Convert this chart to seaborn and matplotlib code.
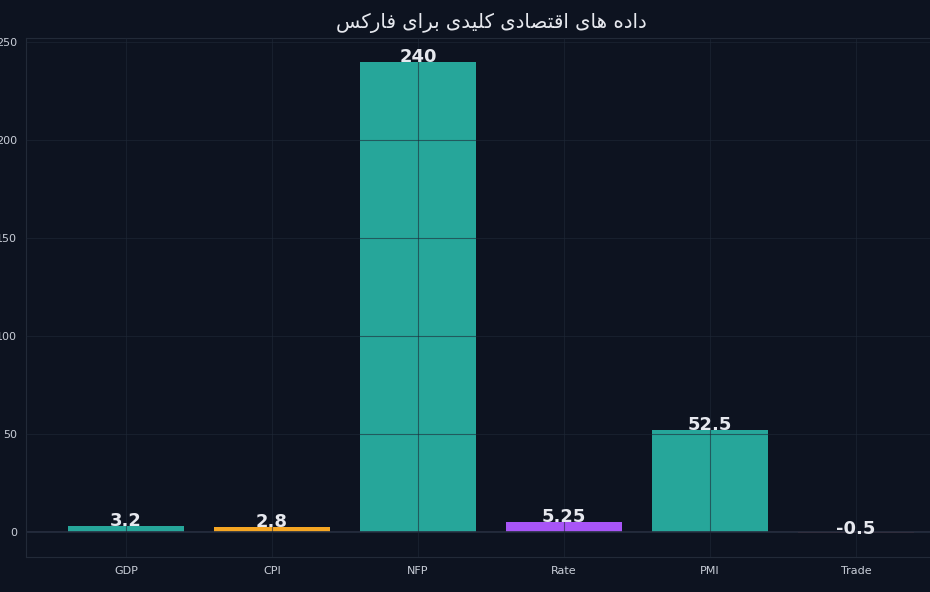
import matplotlib
matplotlib.use("Agg")
import matplotlib.pyplot as plt
import seaborn as sns
import pandas as pd

# ---- data ----
categories = ["GDP", "CPI", "NFP", "Rate", "PMI", "Trade"]
values = [3.2, 2.8, 240, 5.25, 52.5, -0.5]
bar_colors = ["#26a69a", "#f5a623", "#26a69a", "#a855f7", "#26a69a", "#ef5350"]
value_labels = ["3.2", "2.8", "240", "5.25", "52.5", "-0.5"]
title_text = "داده های اقتصادی کلیدی برای فارکس"
y_ticks = [0, 50, 100, 150, 200, 250]

# ---- minimal Arabic/Persian shaping (matplotlib has no bidi) ----
FORMS = {  # iso, fin, init, med
    "ا": ("\uFE8D", "\uFE8E", None, None),
    "د": ("\uFEA9", "\uFEAA", None, None),
    "ر": ("\uFEAD", "\uFEAE", None, None),
    "ه": ("\uFEE9", "\uFEEA", "\uFEEB", "\uFEEC"),
    "ی": ("\uFEEF", "\uFEF0", "\uFEF3", "\uFEF4"),
    "ق": ("\uFED5", "\uFED6", "\uFED7", "\uFED8"),
    "ت": ("\uFE95", "\uFE96", "\uFE97", "\uFE98"),
    "ص": ("\uFEB9", "\uFEBA", "\uFEBB", "\uFEBC"),
    "ک": ("\uFED9", "\uFEDA", "\uFEDB", "\uFEDC"),
    "ل": ("\uFEDD", "\uFEDE", "\uFEDF", "\uFEE0"),
    "ب": ("\uFE8F", "\uFE90", "\uFE91", "\uFE92"),
    "ف": ("\uFED1", "\uFED2", "\uFED3", "\uFED4"),
    "س": ("\uFEB1", "\uFEB2", "\uFEB3", "\uFEB4"),
}


def shape_word(w):
    out = []
    for i, ch in enumerate(w):
        f = FORMS.get(ch)
        if f is None:
            out.append(ch)
            continue
        prev = w[i - 1] if i > 0 else None
        nxt = w[i + 1] if i + 1 < len(w) else None
        join_prev = prev in FORMS and FORMS[prev][2] is not None
        join_next = nxt in FORMS and f[2] is not None
        if join_prev and join_next:
            out.append(f[3])
        elif join_prev:
            out.append(f[1])
        elif join_next:
            out.append(f[2])
        else:
            out.append(f[0])
    return "".join(reversed(out))


def shape_rtl(text):
    return " ".join(shape_word(w) for w in reversed(text.split(" ")))


# ---- style ----
BG = "#0d1320"
TXT = "#e6e8ee"
TICK = "#c9ced8"

sns.set_theme(style="dark")
plt.rcParams["font.family"] = ["DejaVu Sans"]

W, H = 930, 592
fig = plt.figure(figsize=(W / 100, H / 100), dpi=100, facecolor=BG)
ax = fig.add_axes([26 / W, (H - 557) / H, (956 - 26) / W, (557 - 38) / H])
ax.set_facecolor(BG)

df = pd.DataFrame({"cat": categories, "val": values})
sns.barplot(data=df, x="cat", y="val", hue="cat", palette=bar_colors,
            legend=False, width=0.8, saturation=1, ax=ax, zorder=1,
            edgecolor="none", linewidth=0)

ax.set_xlim(-0.685, len(categories) - 1 + 0.685)
ax.set_ylim(-12.5, 252.2)
ax.set_yticks(y_ticks)
ax.set_xlabel("")
ax.set_ylabel("")

ax.grid(True, color="#1e2837", linewidth=0.8, alpha=0.6, zorder=2)
ax.set_axisbelow(False)
ax.axhline(0, color="#2a3142", linewidth=1.2, zorder=2)

for s in ax.spines.values():
    s.set_visible(True)
    s.set_color("#222a38")
    s.set_linewidth(0.8)

ax.tick_params(axis="both", colors=TICK, labelsize=8, length=3.5, width=0.8,
               direction="out", pad=3)
for lbl in ax.get_xticklabels() + ax.get_yticklabels():
    lbl.set_color(TICK)

for i, (v, t) in enumerate(zip(values, value_labels)):
    ax.annotate(t, xy=(i, v), xytext=(0, -3),
                textcoords="offset points", ha="center", va="bottom",
                fontsize=13, fontweight="bold", color=TXT, zorder=5)

ax.set_title(shape_rtl(title_text), color=TXT, fontsize=14.2, pad=7)

fig.savefig("out.png", dpi=100, facecolor=BG)
